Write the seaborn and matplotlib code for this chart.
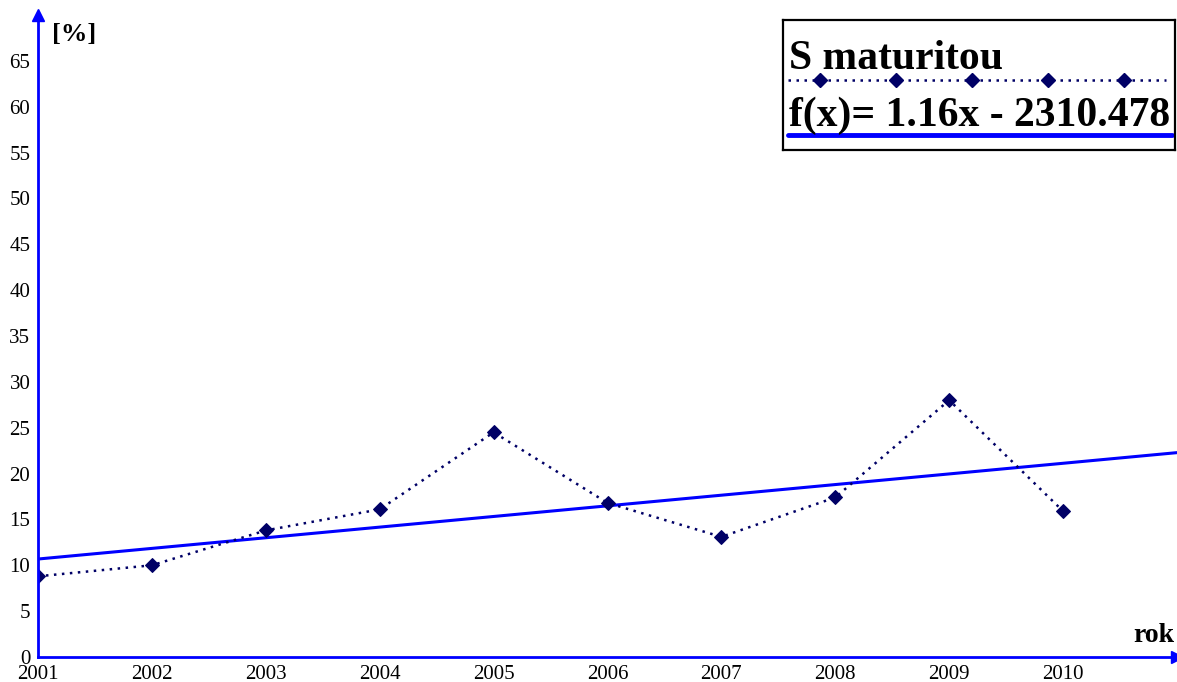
"""
Podil uchazecu s maturitou - vyvoj 2001-2010 a linearni trend.
"""

import numpy as np
import matplotlib.pyplot as plt
import seaborn as sns

# ---------------------------------------------------------------------------
# Data
# ---------------------------------------------------------------------------

years = [2001, 2002, 2003, 2004, 2005, 2006, 2007, 2008, 2009, 2010]
share = [8.8, 10.0, 13.8, 16.1, 24.5, 16.8, 13.1, 17.4, 28.0, 15.9]

series_label = "S maturitou"
trend_slope = 1.16
trend_intercept = -2310.478
trend_label = f"f(x)= {trend_slope}x - {abs(trend_intercept)}"

y_ticks = list(range(0, 70, 5))
x_label = "rok"
y_label = "[%]"

# ---------------------------------------------------------------------------
# Style
# ---------------------------------------------------------------------------

sns.set_style("white")
plt.rcParams["font.family"] = ["Liberation Serif", "DejaVu Serif"]
plt.rcParams["text.color"] = "black"

NAVY = "#000066"
BLUE = "#0000ff"

W, H = 1177, 682
fig = plt.figure(figsize=(W / 100, H / 100), dpi=100)
ax = fig.add_axes([38 / W, (H - 657) / H, (W - 38) / W, (657 - 15) / H])

# trend line over the whole x range
trend_x = np.array([years[0], years[0] + 10])
trend_y = trend_slope * trend_x + trend_intercept
sns.lineplot(x=trend_x, y=trend_y, ax=ax, color=BLUE, linewidth=2.2, zorder=2)

# data series
sns.lineplot(x=years, y=share, ax=ax, color=NAVY, linewidth=1.8,
             linestyle=(0, (1, 2.2)), marker="D", markersize=7,
             markeredgecolor=NAVY, markerfacecolor=NAVY, zorder=3)

ax.set_xlim(years[0], years[0] + 10)
ax.set_ylim(0, 70)
ax.set_xticks(years)
ax.set_xticklabels([str(y) for y in years])
ax.set_yticks(y_ticks)
ax.set_xlabel("")
ax.set_ylabel("")

for side in ("top", "right"):
    ax.spines[side].set_visible(False)
for side in ("left", "bottom"):
    ax.spines[side].set_color(BLUE)
    ax.spines[side].set_linewidth(2)
    ax.spines[side].set_zorder(4)

ax.tick_params(axis="both", direction="inout", color=BLUE, width=1,
               labelsize=15, labelcolor="black")
ax.tick_params(axis="y", length=9, pad=1)
ax.tick_params(axis="x", length=14, pad=-1)

# arrow heads at axis ends
ax.plot([0], [1], marker="^", markersize=9, color=BLUE,
        transform=ax.transAxes, clip_on=False, zorder=5)
ax.plot([1], [0], marker=">", markersize=9, color=BLUE,
        transform=ax.transAxes, clip_on=False, zorder=5)

ax.text(52 / W, (H - 35) / H, y_label, transform=fig.transFigure,
        fontsize=19, fontweight="bold", va="center", ha="left")
ax.text(1174 / W, (H - 636) / H, x_label, transform=fig.transFigure,
        fontsize=20, fontweight="bold", va="center", ha="right")

# ---------------------------------------------------------------------------
# Legend box (text above line sample)
# ---------------------------------------------------------------------------

lg = fig.add_axes([783 / W, (H - 150) / H, (W - 2 - 783) / W, 130 / H])
lg.set_xlim(783, W - 2)
lg.set_ylim(150, 20)
lg.set_xticks([])
lg.set_yticks([])
for s in lg.spines.values():
    s.set_color("black")
    s.set_linewidth(1.6)

lg.text(789, 69, series_label, fontsize=30, fontweight="bold",
        va="baseline", ha="left")
lg.plot([788, 1166], [80, 80], color=NAVY, linewidth=1.8,
        linestyle=(0, (1, 2.2)))
lg.plot(np.linspace(820, 1124, 5), [80] * 5, linestyle="none", marker="D",
        markersize=7, color=NAVY)
lg.text(789, 126, trend_label, fontsize=30, fontweight="bold",
        va="baseline", ha="left")
lg.plot([788, 1172], [135, 135], color=BLUE, linewidth=3.5)

fig.savefig("out.png", dpi=100)
